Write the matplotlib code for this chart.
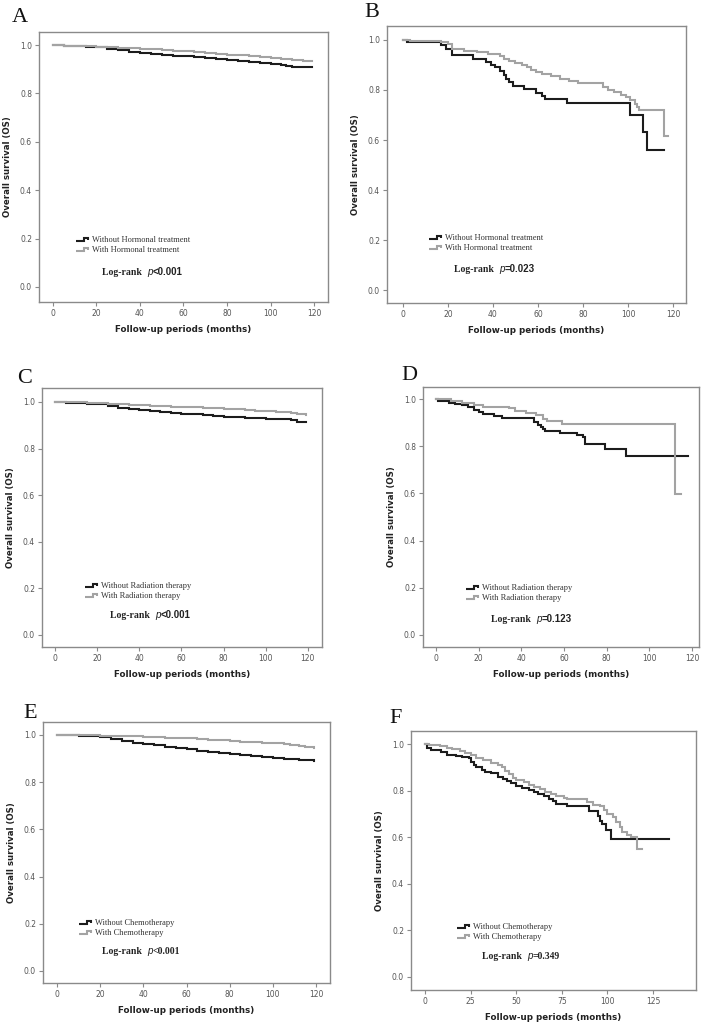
import numpy as np
import matplotlib
matplotlib.use("Agg")
import matplotlib.pyplot as plt
from matplotlib.lines import Line2D
from matplotlib.legend_handler import HandlerLine2D

# ---------------- data ----------------
A_time = [0, 5, 10, 15, 20, 25, 30, 35, 40, 45, 50, 55, 60, 65, 70, 75, 80, 85, 90, 95, 100, 105, 107, 110, 115, 119]
A_without = [1.0, 0.997, 0.995, 0.993, 0.99, 0.984, 0.978, 0.973, 0.967, 0.962, 0.958, 0.955, 0.953, 0.949, 0.945,
             0.941, 0.937, 0.934, 0.931, 0.927, 0.923, 0.919, 0.912, 0.910, 0.908, 0.908]
A_with = [1.0, 0.998, 0.997, 0.995, 0.993, 0.991, 0.989, 0.987, 0.985, 0.982, 0.979, 0.977, 0.974, 0.971, 0.967,
          0.964, 0.96, 0.957, 0.953, 0.95, 0.947, 0.943, 0.941, 0.939, 0.936, 0.934]

B_time_without = [0, 2, 17, 19, 22, 31, 37, 39, 41, 43, 45, 46, 47, 49, 54, 59, 62, 63, 73, 101, 106.5, 108.5, 116]
B_without = [1.0, 0.993, 0.98, 0.965, 0.94, 0.925, 0.91, 0.90, 0.89, 0.875, 0.86, 0.845, 0.83, 0.815, 0.805,
             0.788, 0.775, 0.763, 0.748, 0.699, 0.63, 0.558, 0.558]
B_time_with = [0, 3, 17, 20, 22, 27, 33, 38, 43, 45, 47, 50, 53, 55, 57, 59, 62, 66, 70, 74, 78, 89, 91, 94, 97,
               99, 101, 103, 104, 105, 116, 118]
B_with = [1.0, 0.995, 0.99, 0.985, 0.962, 0.955, 0.95, 0.945, 0.935, 0.925, 0.915, 0.908, 0.9, 0.89, 0.88, 0.872,
          0.865, 0.855, 0.845, 0.835, 0.828, 0.81, 0.8, 0.79, 0.78, 0.77, 0.76, 0.745, 0.73, 0.718, 0.615, 0.615]

C_time = [0, 5, 10, 15, 20, 25, 30, 35, 40, 45, 50, 55, 60, 65, 70, 75, 80, 85, 90, 95, 100, 105, 108, 112, 115, 119]
C_without = [1.0, 0.997, 0.995, 0.993, 0.99, 0.983, 0.976, 0.969, 0.964, 0.961, 0.957, 0.953, 0.95, 0.947, 0.943,
             0.94, 0.936, 0.934, 0.932, 0.931, 0.929, 0.927, 0.925, 0.923, 0.915, 0.915]
C_with = [1.0, 0.999, 0.998, 0.997, 0.995, 0.992, 0.99, 0.988, 0.986, 0.984, 0.982, 0.98, 0.979, 0.977, 0.975,
          0.973, 0.97, 0.968, 0.966, 0.963, 0.96, 0.957, 0.955, 0.951, 0.948, 0.946]

D_time_without = [0, 1, 6, 9, 12, 15, 18, 20, 22, 27, 31, 46, 48, 49, 50, 51, 58, 66, 69, 70, 79, 89, 118]
D_without = [1.0, 0.991, 0.985, 0.98, 0.974, 0.965, 0.955, 0.945, 0.936, 0.928, 0.92, 0.904, 0.89, 0.88, 0.871,
             0.865, 0.854, 0.848, 0.84, 0.81, 0.79, 0.759, 0.759]
D_time_with = [0, 7, 12, 18, 22, 34, 37, 42, 47, 50, 52, 59, 112, 115]
D_with = [1.0, 0.99, 0.985, 0.975, 0.967, 0.96, 0.95, 0.94, 0.932, 0.915, 0.906, 0.896, 0.596, 0.596]

E_time = [0, 5, 10, 15, 20, 25, 30, 35, 40, 45, 50, 55, 60, 65, 70, 75, 80, 85, 90, 95, 100, 105, 108, 112, 115, 119]
E_without = [1.0, 0.999, 0.997, 0.994, 0.99, 0.982, 0.974, 0.968, 0.962, 0.956, 0.95, 0.945, 0.939, 0.934, 0.929,
             0.924, 0.919, 0.915, 0.911, 0.906, 0.902, 0.899, 0.897, 0.895, 0.893, 0.891]
E_with = [1.0, 0.999, 0.998, 0.998, 0.997, 0.996, 0.995, 0.994, 0.993, 0.991, 0.989, 0.988, 0.986, 0.983, 0.98,
          0.977, 0.974, 0.972, 0.97, 0.967, 0.965, 0.96, 0.957, 0.955, 0.95, 0.945]

F_time_without = [0, 1, 3, 9, 12, 17, 20, 24, 25, 27, 28, 31, 33, 36, 40, 43, 45, 47, 50, 53, 57, 60, 62, 65, 68,
                  70, 72, 78, 90, 95, 96, 97, 99, 102, 134]
F_without = [1.0, 0.985, 0.974, 0.965, 0.955, 0.95, 0.945, 0.94, 0.924, 0.91, 0.9, 0.89, 0.88, 0.874, 0.86, 0.85,
             0.84, 0.831, 0.82, 0.81, 0.803, 0.795, 0.785, 0.775, 0.765, 0.755, 0.743, 0.734, 0.714, 0.691, 0.67,
             0.655, 0.629, 0.593, 0.593]
F_time_with = [0, 2, 8, 12, 15, 19, 22, 25, 28, 32, 36, 40, 42, 44, 46, 48, 50, 54, 57, 60, 63, 66, 69, 72, 76,
               78, 89, 92, 96, 98, 100, 103, 105, 107, 108, 111, 113, 116.5, 119]
F_with = [1.0, 0.995, 0.99, 0.985, 0.978, 0.97, 0.96, 0.953, 0.94, 0.93, 0.92, 0.912, 0.9, 0.885, 0.87, 0.855,
          0.846, 0.835, 0.825, 0.815, 0.805, 0.795, 0.785, 0.775, 0.77, 0.763, 0.75, 0.74, 0.734, 0.715, 0.70,
          0.685, 0.667, 0.645, 0.624, 0.61, 0.6, 0.55, 0.55]

panel_letters = ["A", "B", "C", "D", "E", "F"]
legend_labels = [("Without Hormonal treatment", "With Hormonal treatment"),
                 ("Without Hormonal treatment", "With Hormonal treatment"),
                 ("Without Radiation therapy", "With Radiation therapy"),
                 ("Without Radiation therapy", "With Radiation therapy"),
                 ("Without Chemotherapy", "With Chemotherapy"),
                 ("Without Chemotherapy", "With Chemotherapy")]
p_texts = ["<0.001", "=0.023", "<0.001", "=0.123", "<0.001", "=0.349"]
x_ticks_main = [0, 20, 40, 60, 80, 100, 120]
x_ticks_F = [0, 25, 50, 75, 100, 125]
y_ticks = [0.0, 0.2, 0.4, 0.6, 0.8, 1.0]

curves = [
    (A_time, A_without, A_time, A_with),
    (B_time_without, B_without, B_time_with, B_with),
    (C_time, C_without, C_time, C_with),
    (D_time_without, D_without, D_time_with, D_with),
    (E_time, E_without, E_time, E_with),
    (F_time_without, F_without, F_time_with, F_with),
]

# ---------------- layout (pixels) ----------------
W, H = 708, 1026
boxes = [(39, 328, 32, 302), (387, 686, 26, 303), (42, 322, 388, 647),
         (423, 699, 387, 647), (43, 330, 722, 983), (411, 696, 731, 990)]
xlims = [(-6.4, 126.4), (-7.1, 125.8), (-6.2, 126.7), (-6.1, 123.3), (-6.5, 126.5), (-7.7, 148.6)]
ylims = [(-0.062, 1.054), (-0.052, 1.056), (-0.0515, 1.06), (-0.051, 1.051), (-0.051, 1.055), (-0.056, 1.056)]
letter_pos = [(12, 22), (364, 17), (17, 383), (401, 380), (23, 718), (389, 723)]
leg_pos = [(0.152, 0.23, 0.218, 0.092), (0.164, 0.235, 0.224, 0.104), (0.178, 0.235, 0.243, 0.105),
           (0.178, 0.227, 0.246, 0.089), (0.15, 0.23, 0.206, 0.104), (0.186, 0.243, 0.249, 0.112)]

BLACK = "#1c1c1c"
GRAY = "#a3a3a3"
FRAME = "#8a8a8a"


class StepHandler(HandlerLine2D):
    def create_artists(self, legend, orig_handle, xdescent, ydescent, width, height, fontsize, trans):
        x0 = -xdescent
        y0 = -ydescent
        xs = np.array([0.0, 0.6, 0.6, 0.92, 0.92]) * width + x0
        ys = np.array([0.25, 0.25, 0.75, 0.75, 0.45]) * height + y0
        ln = Line2D(xs, ys, color=orig_handle.get_color(), lw=orig_handle.get_linewidth(),
                    solid_joinstyle="miter", solid_capstyle="butt")
        ln.set_transform(trans)
        return [ln]


fig = plt.figure(figsize=(W / 100, H / 100), dpi=100)
fig.patch.set_facecolor("white")

for i in range(6):
    l, r, t, b = boxes[i]
    ax = fig.add_axes([l / W, 1 - b / H, (r - l) / W, (b - t) / H])
    tw, sw, tg, sg = curves[i]
    h1, = ax.step(tw, sw, where="post", color=BLACK, lw=1.5, solid_joinstyle="miter")
    h2, = ax.step(tg, sg, where="post", color=GRAY, lw=1.5, solid_joinstyle="miter")
    ax.set_xlim(*xlims[i])
    ax.set_ylim(*ylims[i])
    ax.set_xticks(x_ticks_F if i == 5 else x_ticks_main)
    ax.set_yticks(y_ticks)
    ax.set_yticklabels([f"{v:.1f}" for v in y_ticks])
    for s in ax.spines.values():
        s.set_color(FRAME)
        s.set_linewidth(1.0)
    ax.tick_params(direction="out", length=3, width=0.8, color=FRAME, labelsize=5.5,
                   labelcolor="#555555", pad=2)
    ax.set_xlabel("Follow-up periods (months)", fontsize=6.3, fontweight="bold",
                  family="DejaVu Sans", color="#222222", labelpad=5)
    ax.set_ylabel("Overall survival (OS)", fontsize=6.2, fontweight="bold",
                  family="DejaVu Sans", color="#222222", labelpad=6)

    hx, hy, lx, ly = leg_pos[i]
    ax.legend([h1, h2], list(legend_labels[i]), handler_map={Line2D: StepHandler()},
              loc="center left", bbox_to_anchor=(hx - 0.03, hy - 0.02), frameon=False,
              prop={"family": "Liberation Serif", "size": 6}, labelcolor="#333333",
              handlelength=1.6, handletextpad=0.35, labelspacing=0.25, borderpad=0.2,
              borderaxespad=0)

    t1 = ax.text(lx, ly, "Log-rank  ", transform=ax.transAxes, family="Liberation Serif",
                 fontweight="bold", fontsize=7, color="#222222", va="bottom", ha="left")
    num_family = "Liberation Serif" if i >= 4 else "Liberation Sans"
    t2 = ax.annotate("p", xy=(1, 0), xycoords=t1, va="bottom", ha="left",
                     family="Liberation Sans", style="italic", fontsize=7, color="#222222")
    ax.annotate(p_texts[i], xy=(1, 0), xycoords=t2, va="bottom", ha="left",
                family=num_family, fontweight="bold", fontsize=7, color="#222222")

    lxp, lyp = letter_pos[i]
    fig.text(lxp / W, 1 - lyp / H, panel_letters[i], family="Liberation Serif", fontsize=16,
             color="#111111", ha="left", va="baseline")

fig.savefig("out.png", dpi=100, facecolor="white")
